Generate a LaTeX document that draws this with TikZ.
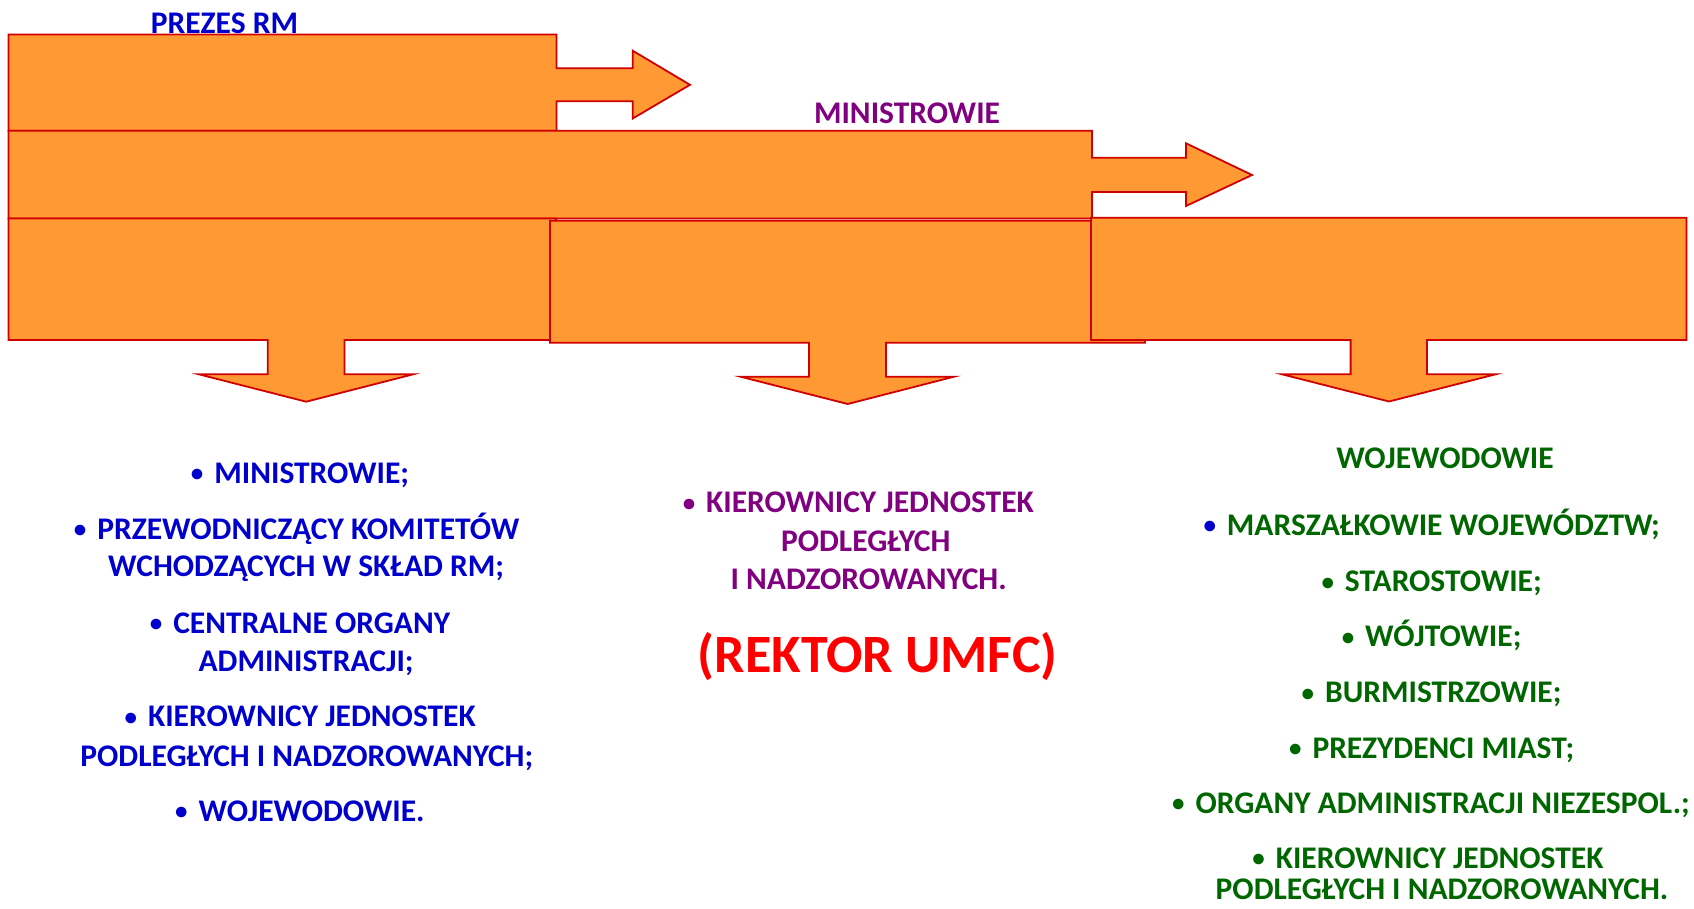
\documentclass[tikz,border=0pt]{standalone}
\usepackage{fontspec}
\setmainfont{Carlito}
\definecolor{fillor}{HTML}{FF9933}
\definecolor{edgered}{HTML}{D00000}
\definecolor{tblue}{HTML}{0000CC}
\definecolor{tpurple}{HTML}{800080}
\definecolor{tgreen}{HTML}{006600}
\definecolor{tred}{HTML}{FF0000}
\newcommand{\bul}{{\fontsize{25}{25}\selectfont\raisebox{1.5pt}{•}}\hspace{11pt}}
\tikzset{
  blockarrow/.style={fill=fillor, draw=edgered, line width=1.8pt, line join=miter},
  txt/.style={anchor=base, inner sep=0pt, font=\fontsize{31.5}{37}\selectfont\bfseries},
  big/.style={anchor=base, inner sep=0pt, font=\fontsize{54}{60}\selectfont\bfseries}
}
\begin{document}
\begin{tikzpicture}[x=1pt, y=-1pt]
\useasboundingbox (0,0) rectangle (1694,908);
% top arrow (PREZES RM)
\draw[blockarrow] (8.5,34.5) -- (556.5,34.5) -- (556.5,68.3) -- (632.7,68.3) -- (632.7,50.7)
  -- (690,84.8) -- (632.7,118.5) -- (632.7,101.3) -- (556.5,101.3) -- (556.5,130.7) -- (8.5,130.7) -- cycle;
% middle arrow (MINISTROWIE)
\draw[blockarrow] (8.5,130.7) -- (1092,130.7) -- (1092,157.7) -- (1186,157.7) -- (1186,143.3)
  -- (1252,175) -- (1186,206) -- (1186,192) -- (1092,192) -- (1092,218.5) -- (8.5,218.5) -- cycle;
% left down arrow
\draw[blockarrow] (8.5,218.5) -- (556,218.5) -- (556,340) -- (344.4,340) -- (344.4,374.3) -- (413.2,374.3)
  -- (306.2,401.7) -- (198.8,374.3) -- (267.7,374.3) -- (267.7,340) -- (8.5,340) -- cycle;
% middle down arrow
\draw[blockarrow] (550,220.7) -- (1145,220.7) -- (1145,342.7) -- (886,342.7) -- (886,376.7) -- (954,376.7)
  -- (847.7,404) -- (740.5,376.7) -- (809,376.7) -- (809,342.7) -- (550,342.7) -- cycle;
% right down arrow
\draw[blockarrow] (1091,217.7) -- (1686.5,217.7) -- (1686.5,340) -- (1427,340) -- (1427,374.3) -- (1495.6,374.3)
  -- (1389,401.5) -- (1282,374.3) -- (1350.6,374.3) -- (1350.6,340) -- (1091,340) -- cycle;

% headings
\node[txt, text=tblue] (prezes) at (224.5,33.3) {PREZES RM};
\node[txt, text=tpurple] (ministrowie) at (907,123.3) {MINISTROWIE};

% left column
\begin{scope}[every node/.style={txt, text=tblue}]
\node (l1) at (300,483.3) {\bul MINISTROWIE;};
\node (l2a) at (296.6,539.3) {\bul PRZEWODNICZĄCY KOMITETÓW};
\node (l2b) at (306.2,576.7) {WCHODZĄCYCH W SKŁAD RM;};
\node (l3a) at (300,633.3) {\bul CENTRALNE ORGANY};
\node (l3b) at (306.1,671.7) {ADMINISTRACJI;};
\node (l4a) at (300.2,726.7) {\bul KIEROWNICY JEDNOSTEK};
\node (l4b) at (306.8,766) {PODLEGŁYCH I NADZOROWANYCH;};
\node (l5) at (299.9,821) {\bul WOJEWODOWIE.};
\end{scope}

% middle column
\begin{scope}[every node/.style={txt, text=tpurple}]
\node (m1) at (858.3,512.7) {\bul KIEROWNICY JEDNOSTEK};
\node (m2) at (865.8,551.7) {PODLEGŁYCH};
\node (m3) at (868.7,589.3) {I NADZOROWANYCH.};
\end{scope}
\node[big, text=tred] (rektor) at (877.8,672.7) {(REKTOR UMFC)};

% right column
\begin{scope}[every node/.style={txt, text=tgreen}]
\node (r0) at (1445,468.3) {WOJEWODOWIE};
\node (r1) at (1431.6,535) {{\color{tblue}\bul}MARSZAŁKOWIE WOJEWÓDZTW;};
\node (r2) at (1431.6,591.7) {\bul STAROSTOWIE;};
\node (r3) at (1431.6,646.7) {\bul WÓJTOWIE;};
\node (r4) at (1431.6,702.7) {\bul BURMISTRZOWIE;};
\node (r5) at (1431.6,758.3) {\bul PREZYDENCI MIAST;};
\node (r6) at (1431,813.3) {\bul ORGANY ADMINISTRACJI NIEZESPOL.;};
\node (r7a) at (1427.9,868.3) {\bul KIEROWNICY JEDNOSTEK};
\node (r7b) at (1442,899) {PODLEGŁYCH I NADZOROWANYCH.};
\end{scope}
\end{tikzpicture}
\end{document}
